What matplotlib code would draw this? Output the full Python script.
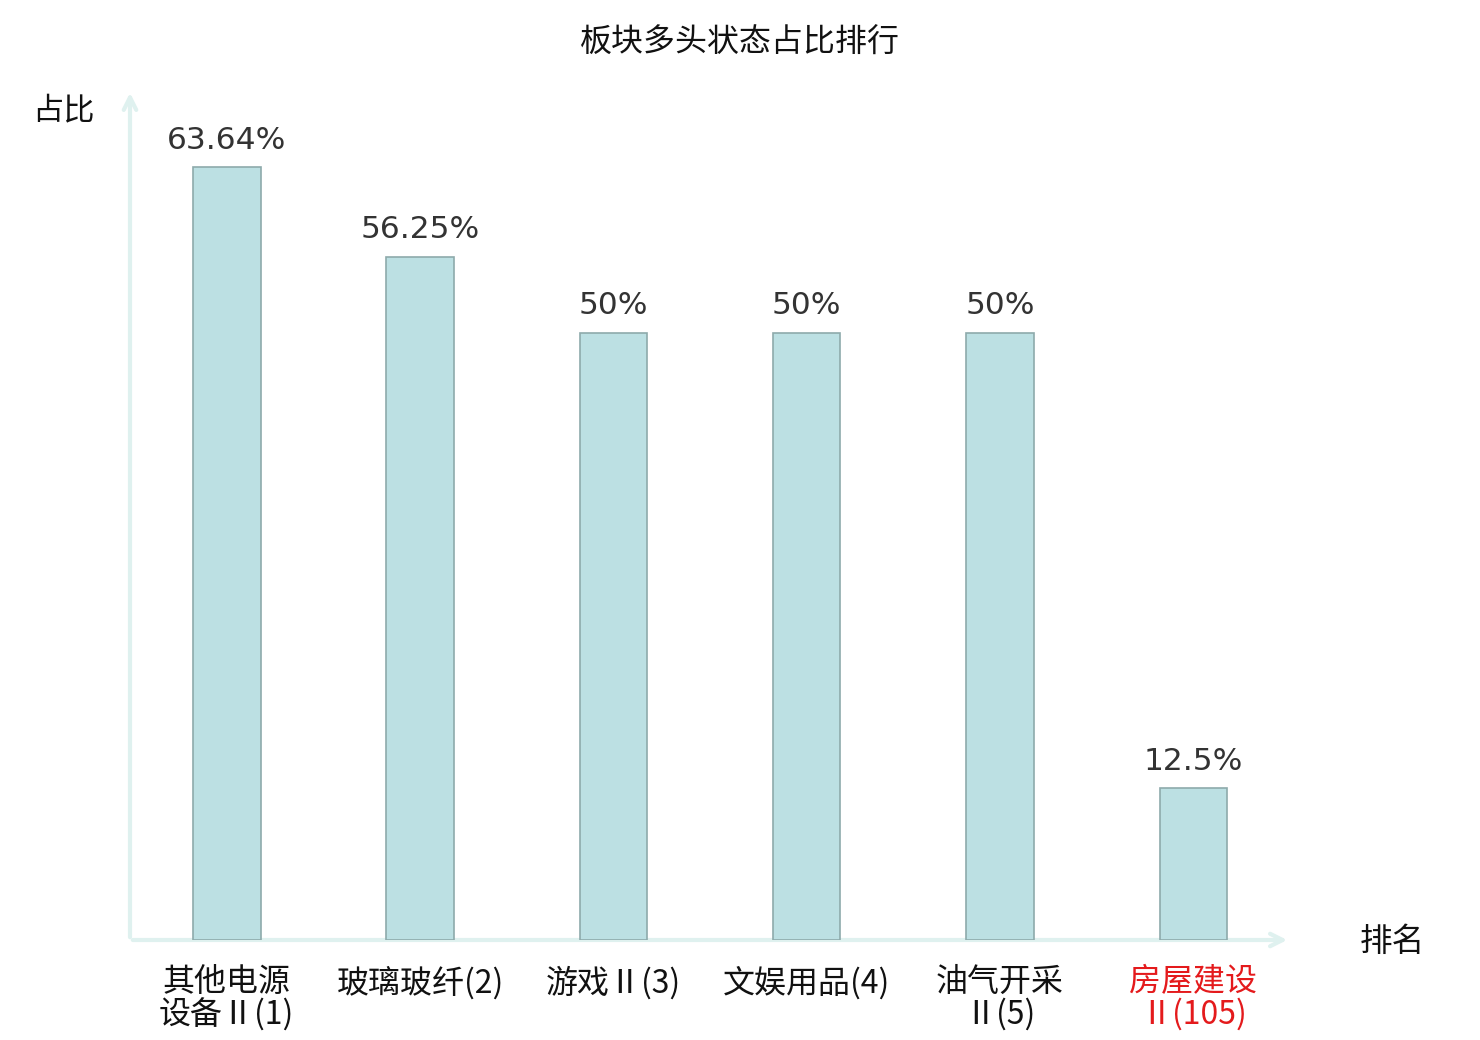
import matplotlib.pyplot as plt

plt.rcParams['font.family'] = ['Noto Sans CJK SC', 'DejaVu Sans']

# data
categories = ['其他电源\n设备Ⅱ(1)', '玻璃玻纤(2)', '游戏Ⅱ(3)', '文娱用品(4)', '油气开采\nⅡ(5)', '房屋建设\nⅡ(105)']
values = [63.64, 56.25, 50, 50, 50, 12.5]
value_labels = ['63.64%', '56.25%', '50%', '50%', '50%', '12.5%']
highlight = [False, False, False, False, False, True]

axis_color = '#dff1ef'

fig = plt.figure(figsize=(14.8, 10.4), dpi=100)
ax = fig.add_axes([130 / 1480, 100 / 1040, 1160 / 1480, 850 / 1040])

x = list(range(len(categories)))
ax.bar(x, values, width=0.35, color='#bce0e3', edgecolor='#8eaaab', linewidth=1.2, zorder=3)

for xi, v, lab in zip(x, values, value_labels):
    ax.annotate(lab, (xi, v), xytext=(0, 9), textcoords='offset points',
                ha='center', va='bottom', fontsize=22.5, color='#333333',
                family=['DejaVu Sans'])

ax.set_xlim(-0.5, 5.5)
ax.set_ylim(0, 70)
for s in ax.spines.values():
    s.set_visible(False)
ax.set_yticks([])
ax.set_xticks(x)
ax.set_xticklabels(categories, fontsize=23, linespacing=1.0)
ax.tick_params(axis='x', length=0, pad=19)
for t, h in zip(ax.get_xticklabels(), highlight):
    t.set_color('#e41a1c' if h else '#111111')

# axes with arrows
ax.annotate('', xy=(1.0, 0), xytext=(0, 0), xycoords='axes fraction',
            arrowprops=dict(arrowstyle='->,head_length=0.9,head_width=0.45',
                            color=axis_color, lw=3), zorder=1)
ax.annotate('', xy=(0, 1.0), xytext=(0, 0), xycoords='axes fraction',
            arrowprops=dict(arrowstyle='->,head_length=0.9,head_width=0.45',
                            color=axis_color, lw=3), zorder=1)

fig.text(63 / 1480, 1 - 110 / 1040, '占比', fontsize=22.5, ha='center', va='center', color='#111111')
fig.text(1392 / 1480, 1 - 942 / 1040, '排名', fontsize=23.5, ha='center', va='center', color='#111111')
fig.text(740 / 1480, 1 - 43 / 1040, '板块多头状态占比排行', fontsize=23, ha='center', va='center', color='#111111')

fig.savefig('out.png', dpi=100)
